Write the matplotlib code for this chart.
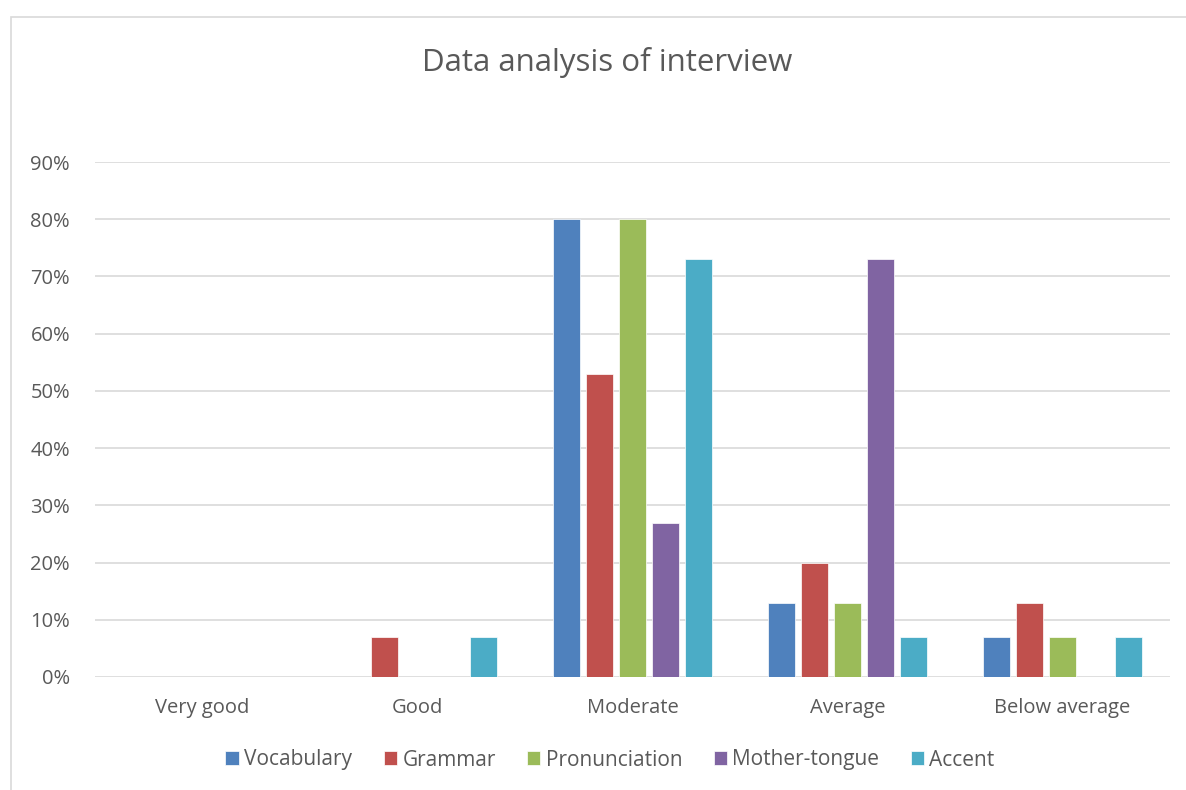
import matplotlib
matplotlib.use("Agg")
import matplotlib.pyplot as plt
from matplotlib.patches import Rectangle
import numpy as np

categories = ["Very good", "Good", "Moderate", "Average", "Below average"]
series_names = ["Vocabulary", "Grammar", "Pronunciation", "Mother-tongue", "Accent"]
vocabulary = [0, 0, 80, 13, 7]
grammar = [0, 7, 53, 20, 13]
pronunciation = [0, 0, 80, 13, 7]
mother_tongue = [0, 0, 27, 73, 0]
accent = [0, 7, 73, 7, 7]
yticks = [0, 10, 20, 30, 40, 50, 60, 70, 80, 90]

series = [vocabulary, grammar, pronunciation, mother_tongue, accent]
colors = ["#4F81BD", "#C0504D", "#9BBB59", "#8064A2", "#4BACC6"]

plt.rcParams['font.family'] = ['Open Sans', 'DejaVu Sans']
W, H = 1186, 790
fig = plt.figure(figsize=(W/100, H/100), dpi=100)

# chart frame
fig.patches.append(Rectangle((11/W, -0.01), 1.2, 1 - 17/H + 0.01, transform=fig.transFigure,
                             fill=False, edgecolor="#d9d9d9", linewidth=1.2, zorder=0))

ax = fig.add_axes([95/W, 1 - 677/H, (1170-95)/W, (677-162)/H])
x = np.arange(len(categories))
spacing = 0.1535
width = 0.121
for i, (vals, name, c) in enumerate(zip(series, series_names, colors)):
    ax.bar(x + (i - 2) * spacing, vals, width, color=c, label=name,
           edgecolor="white", linewidth=0.5, zorder=3)

ax.set_xlim(-0.5, 4.5)
ax.set_ylim(0, 90)
ax.set_yticks(yticks)
ax.set_yticklabels([f"{v}%" for v in yticks])
ax.set_xticks(x)
ax.set_xticklabels(categories)
ax.grid(axis='y', color="#d9d9d9", linewidth=1.2, zorder=0)
for s in ax.spines.values():
    s.set_visible(False)
ax.tick_params(axis='both', length=0, labelsize=14.5, colors="#595959")
ax.tick_params(axis='y', pad=18)
ax.tick_params(axis='x', pad=15)

fig.text(607/W, 1 - 62/H, "Data analysis of interview", ha='center', va='center',
         fontsize=22.5, color="#595959")

leg = fig.legend(loc='center', bbox_to_anchor=(610/W, 1 - 760/H), ncol=5, frameon=False,
                 fontsize=15, handlelength=0.65, handleheight=0.65, handletextpad=0.25,
                 columnspacing=1.5)
for t in leg.get_texts():
    t.set_color("#595959")

fig.savefig("out.png", dpi=100, facecolor="white")
